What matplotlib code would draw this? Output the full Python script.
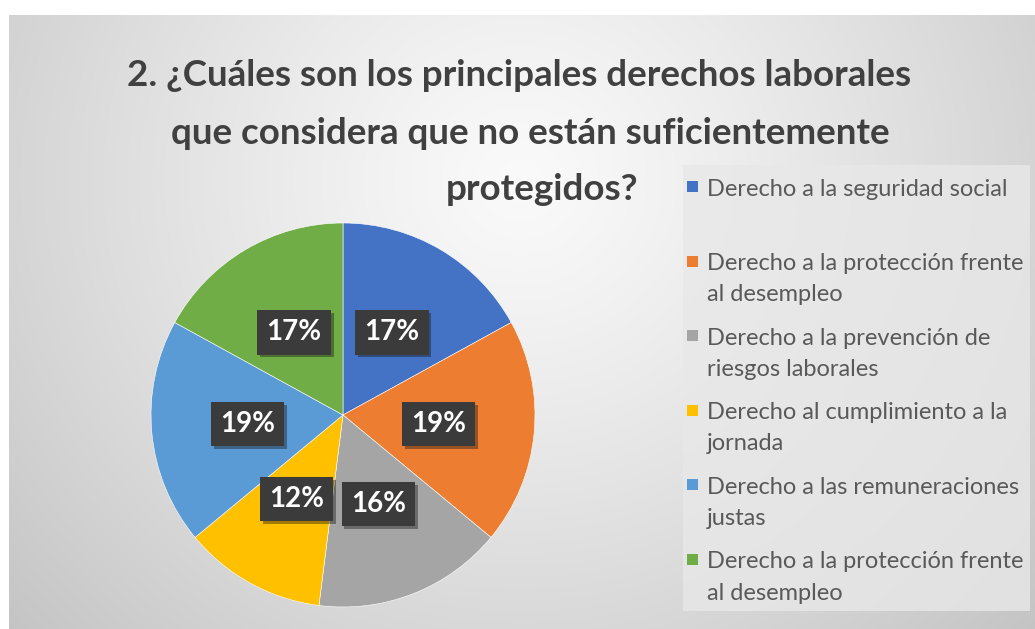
import numpy as np
import matplotlib.pyplot as plt
from matplotlib.patches import Rectangle
import matplotlib.patheffects as pe

# Datos del gráfico
categorias = [
    'Derecho a la seguridad social',
    'Derecho a la protección frente\nal desempleo',
    'Derecho a la prevención de\nriesgos laborales',
    'Derecho al cumplimiento a la\njornada',
    'Derecho a las remuneraciones\njustas',
    'Derecho a la protección frente\nal desempleo',
]
porcentajes = [17, 19, 16, 12, 19, 17]
colores = ['#4472C4', '#ED7D31', '#A5A5A5', '#FFC000', '#5B9BD5', '#70AD47']
titulo = ['2. ¿Cuáles son los principales derechos laborales',
          'que considera que no están suficientemente',
          'protegidos?']

W, H = 1035, 629
fig = plt.figure(figsize=(W / 100, H / 100), dpi=100)
plt.rcParams['font.family'] = ['Lato', 'DejaVu Sans']

# Fondo con degradado radial
bg = fig.add_axes([9 / W, 0, (W - 9) / W, (H - 15) / H])
xx, yy = np.meshgrid(np.arange(9, W), np.arange(15, H))
d = np.hypot(xx - 520, (yy - 180) * 1.05)
v = 0.98 - 0.21 * (d / d.max()) ** 1.2
img = np.dstack([v, v, v])
bg.imshow(img, aspect='auto', extent=[0, 1, 0, 1])
bg.axis('off')

# Gráfico de tarta
cx, cy, r = 343, 415, 192
ax = fig.add_axes([(cx - r) / W, (H - cy - r) / H, 2 * r / W, 2 * r / H])
wedges, textos, autot = ax.pie(
    porcentajes, colors=colores, startangle=90, counterclock=False,
    autopct='%d%%', pctdistance=0.5, radius=1,
    wedgeprops=dict(edgecolor='white', linewidth=0.4),
    textprops=dict(color='white', fontsize=20, fontweight='bold'))
for t in autot:
    t.set_bbox(dict(boxstyle='square,pad=0.33', facecolor='#3b3b3b',
                    edgecolor='none'))
    t.get_bbox_patch().set_path_effects(
        [pe.SimplePatchShadow(offset=(2, -2), alpha=0.4), pe.Normal()])
ax.set_xlim(-1, 1)
ax.set_ylim(-1, 1)
ax.axis('off')

# Título (una línea por texto)
for linea, (tx, ty) in zip(titulo, [(519, 75), (530, 133), (542, 190)]):
    fig.text(tx / W, 1 - ty / H, linea, ha='center', va='center',
             fontsize=26.5, fontweight='bold', color='#404040')

# Leyenda
fig.add_artist(Rectangle((683 / W, 1 - 611 / H), (1030 - 683) / W,
                         (611 - 165) / H, transform=fig.transFigure,
                         facecolor='#e8e8e8', edgecolor='none', alpha=0.8))
for i, (cat, col) in enumerate(zip(categorias, colores)):
    y = 187 + 74.6 * i
    fig.add_artist(Rectangle((687 / W, 1 - (y + 5) / H), 11 / W, 11 / H,
                             transform=fig.transFigure, facecolor=col,
                             edgecolor='none'))
    for j, linea in enumerate(cat.split('\n')):
        fig.text(707 / W, 1 - (y + 31 * j + 2) / H, linea, ha='left',
                 va='center', fontsize=17, color='#595959')

fig.savefig('out.png', dpi=100)
